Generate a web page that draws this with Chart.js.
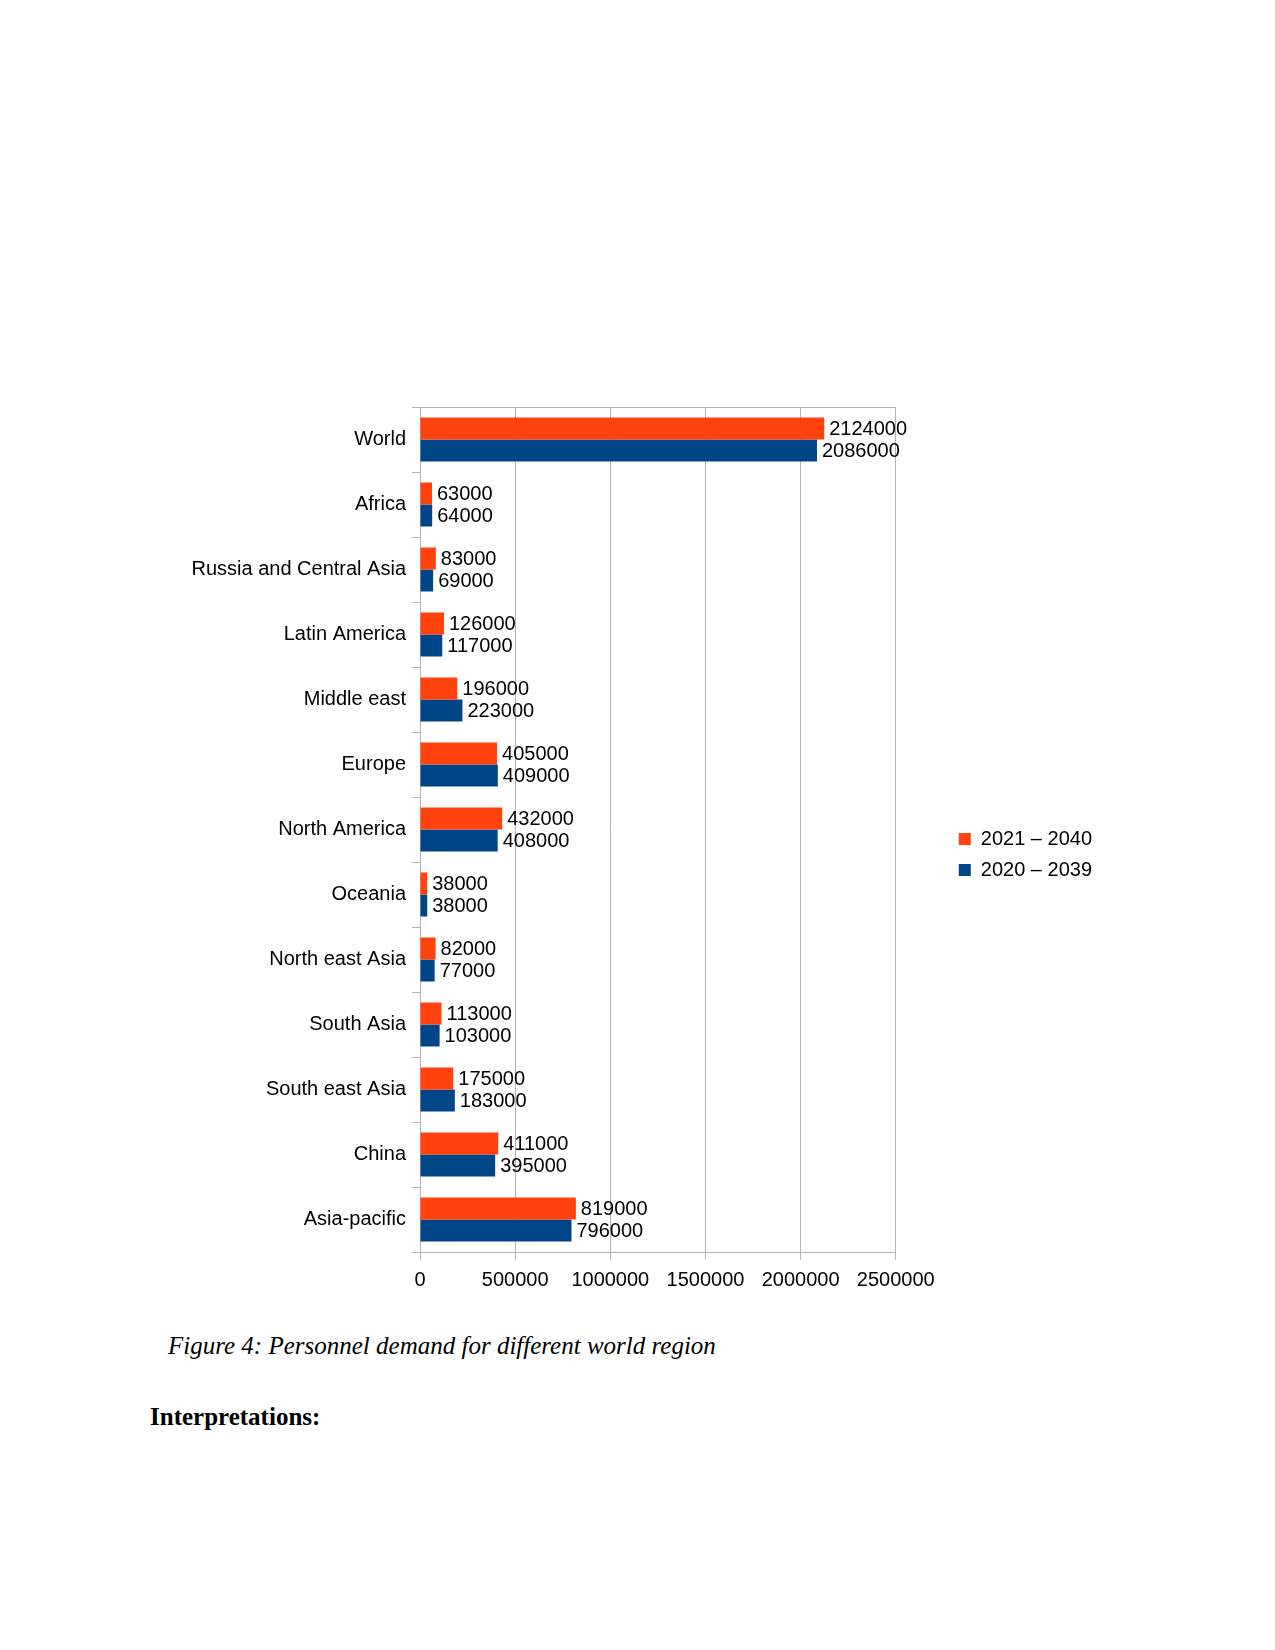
<!DOCTYPE html>
<html>
<head>
<meta charset="utf-8">
<title>Personnel demand for different world region</title>
<script src="https://cdn.jsdelivr.net/npm/chart.js@4/dist/chart.umd.min.js"></script>
<style>
  body { margin: 0; background: #fff; width: 1275px; height: 1650px; position: relative; overflow: hidden; }
  #wrap { position: absolute; left: 0; top: 0; width: 1275px; height: 1302px; }
  .caption { position: absolute; left: 168px; top: 1332px; font: italic 25px "Liberation Serif", serif; color: #000; white-space: nowrap; }
  .heading { position: absolute; left: 150px; top: 1403px; font: bold 25px "Liberation Serif", serif; color: #000; white-space: nowrap; }
</style>
</head>
<body>
<div id="wrap"><canvas id="chart" width="1275" height="1302"></canvas></div>
<div class="caption">Figure 4: Personnel demand for different world region</div>
<div class="heading">Interpretations:</div>
<script>
var regions = ['World', 'Africa', 'Russia and Central Asia', 'Latin America', 'Middle east',
  'Europe', 'North America', 'Oceania', 'North east Asia', 'South Asia',
  'South east Asia', 'China', 'Asia-pacific'];
var demand2021 = [2124000, 63000, 83000, 126000, 196000, 405000, 432000, 38000, 82000, 113000, 175000, 411000, 819000];
var demand2020 = [2086000, 64000, 69000, 117000, 223000, 409000, 408000, 38000, 77000, 103000, 183000, 395000, 796000];
var seriesNames = ['2021 \u2013 2040', '2020 \u2013 2039'];
var xTicks = [0, 500000, 1000000, 1500000, 2000000, 2500000];

var gridGray = '#b3b3b3';
var font = { family: '"Liberation Sans", Arial, sans-serif', size: 20 };

// value labels to the right of each bar
var valueLabels = {
    id: 'valueLabels',
    afterDatasetsDraw: function(chart) {
        var ctx = chart.ctx;
        ctx.save();
        ctx.font = '20px "Liberation Sans", Arial, sans-serif';
        ctx.fillStyle = '#000';
        ctx.textBaseline = 'middle';
        ctx.textAlign = 'left';
        chart.data.datasets.forEach(function(ds, i) {
            chart.getDatasetMeta(i).data.forEach(function(bar, j) {
                ctx.fillText(String(ds.data[j]), bar.x + 5, bar.y + 1);
            });
        });
        ctx.restore();
    }
};

var config = {
    type: 'bar',
    data: {
        labels: regions,
        datasets: [{
            label: seriesNames[0],
            data: demand2021,
            backgroundColor: '#ff420e'
        }, {
            label: seriesNames[1],
            data: demand2020,
            backgroundColor: '#004586'
        }]
    },
    options: {
        indexAxis: 'y',
        responsive: false,
        animation: false,
        categoryPercentage: 0.68,
        barPercentage: 1.0,
        layout: { padding: { top: 407, left: 0, bottom: 0, right: 173 } },
        scales: {
            x: {
                min: 0,
                max: 2500000,
                afterBuildTicks: function(s) { s.ticks = xTicks.map(function(v) { return { value: v }; }); },
                afterFit: function(s) { s.height = 50; },
                grid: { color: gridGray, tickColor: gridGray, tickLength: 8 },
                border: { color: gridGray },
                ticks: { color: '#000', font: font, maxRotation: 0, autoSkip: false, padding: 8,
                    callback: function(v) { return String(v); } }
            },
            y: {
                afterFit: function(s) { s.width = 420; },
                grid: {
                    color: function(c) { return (c.type === 'scale' || c.index === 0) ? gridGray : 'rgba(0,0,0,0)'; },
                    tickColor: gridGray,
                    tickLength: 8
                },
                border: { color: gridGray },
                ticks: { color: '#000', font: font, padding: 6 }
            },
            y2: {
                position: 'right',
                type: 'category',
                labels: regions,
                afterFit: function(s) { s.width = 52; },
                grid: { display: false },
                border: { display: false },
                ticks: { display: false }
            }
        },
        plugins: {
            legend: {
                position: 'right',
                labels: { color: '#000', font: font, boxWidth: 12, boxHeight: 12, padding: 11 }
            },
            tooltip: { enabled: false }
        }
    },
    plugins: [valueLabels]
};

window.onload = function() {
    var ctx = document.getElementById('chart').getContext('2d');
    window.myBar = new Chart(ctx, config);
};
</script>
</body>
</html>
